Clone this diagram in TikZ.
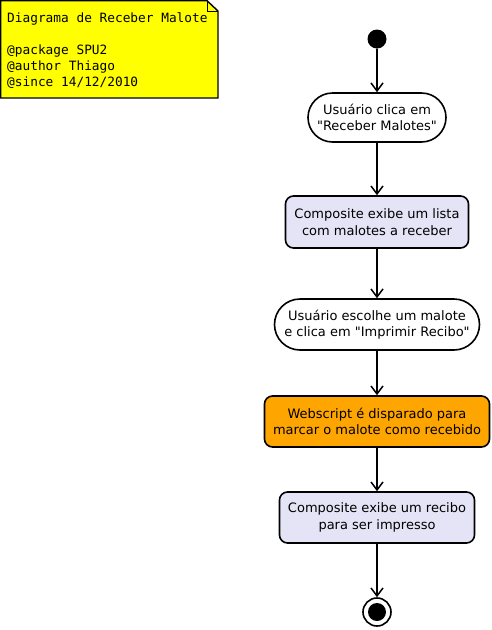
\documentclass[tikz,border=0pt]{standalone}
\usepackage{fontspec}
\setmainfont{DejaVu Sans}[Ligatures=TeXOff]
\newfontfamily\notefont{DejaVu Sans Mono}
\usetikzlibrary{arrows.meta,shapes.misc}
\definecolor{lav}{RGB}{228,228,246}
\definecolor{orng}{RGB}{255,165,0}
\definecolor{noteyellow}{RGB}{255,255,0}
\tikzset{
  act/.style={draw=black, line width=1.6pt, align=center, font=\fontsize{13}{16.5}\selectfont, inner sep=0pt, minimum height=50pt},
  pill/.style={act, rounded rectangle, fill=white},
  box/.style={act, rounded corners=8pt},
  flow/.style={line width=1.8pt, -{Straight Barb[length=8pt,width=12pt,line width=1.5pt]}},
}
\begin{document}
\begin{tikzpicture}[x=1pt,y=-1pt]
\useasboundingbox (0,0) rectangle (492,630);
% note
\draw[line width=1.4pt, fill=noteyellow] (0.7,0.7) -- (207,0.7) -- (218,11) -- (218,98) -- (0.7,98) -- cycle;
\draw[line width=1pt] (207,0.7) -- (207,11) -- (218,11);
\node[anchor=north west, align=left, inner sep=0pt, font=\notefont\fontsize{12.8}{16}\selectfont] (note) at (7,13)
  {Diagrama de Receber Malote\\[16pt]@package SPU2\\@author Thiago\\@since 14/12/2010};
% start
\node[circle, fill=black, minimum size=19pt, inner sep=0pt] (start) at (377,39) {};
\node[pill, minimum width=138pt, minimum height=49pt] (a1) at (377,117.5) {Usuário clica em\\"Receber Malotes"};
\node[box, fill=lav, minimum width=183pt, minimum height=52pt] (a2) at (377,222) {Composite exibe um lista\\com malotes a receber};
\node[pill, minimum width=205pt, minimum height=51pt] (a3) at (377,324.5) {Usuário escolhe um malote\\e clica em "Imprimir Recibo"};
\node[box, fill=orng, minimum width=225pt, minimum height=51pt] (a4) at (377,421.5) {Webscript é disparado para\\marcar o malote como recebido};
\node[box, fill=lav, minimum width=195pt, minimum height=51pt] (a5) at (377,517.5) {Composite exibe um recibo\\para ser impresso};
\node[circle, draw=black, line width=1.6pt, minimum size=28pt, inner sep=0pt] (end) at (377,612) {};
\node[circle, fill=black, minimum size=18pt, inner sep=0pt] (endin) at (377,612) {};
\draw[flow] (start) -- (a1);
\draw[flow] (a1) -- (a2);
\draw[flow] (a2) -- (a3);
\draw[flow] (a3) -- (a4);
\draw[flow] (a4) -- (a5);
\draw[flow] (a5) -- (end);
\end{tikzpicture}
\end{document}
